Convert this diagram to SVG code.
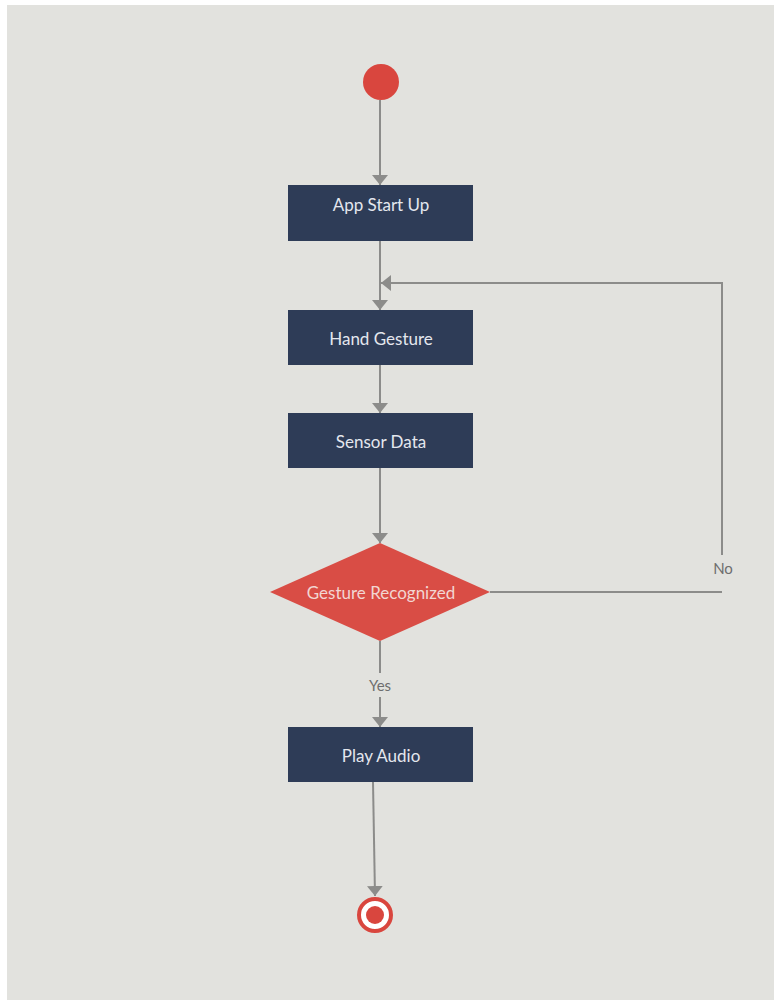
<svg xmlns="http://www.w3.org/2000/svg" width="774" height="1000" viewBox="0 0 774 1000">
<defs>
<style>
.box{fill:#2e3c57;}
.lbl{font-family:Lato,"Liberation Sans",sans-serif;font-size:17px;fill:#e4e7ee;text-anchor:middle;dominant-baseline:central;}
.edge{fill:none;stroke:#8c8c8a;stroke-width:2;}
.elbl{font-family:Lato,"Liberation Sans",sans-serif;font-size:15px;fill:#6e6e6e;text-anchor:middle;dominant-baseline:central;}
</style>
<marker id="arrB" viewBox="0 0 10 16" refX="10" refY="8" markerWidth="10" markerHeight="16" markerUnits="userSpaceOnUse" orient="auto">
<path d="M0,0 L10,8 L0,16 z" fill="#8c8c8a"/>
</marker>
</defs>
<rect x="0" y="0" width="774" height="1000" fill="#ffffff"/>
<rect x="7" y="5" width="767" height="995" fill="#e2e2de"/>

<g id="connectors">
<path class="edge" d="M380,100 L380,185" marker-end="url(#arrB)"/>
<path class="edge" d="M380,241 L380,310" marker-end="url(#arrB)"/>
<path class="edge" d="M380,365 L380,413" marker-end="url(#arrB)"/>
<path class="edge" d="M380,468 L380,543" marker-end="url(#arrB)"/>
<path class="edge" d="M380,641 L380,673"/>
<path class="edge" d="M380,697 L380,727" marker-end="url(#arrB)"/>
<path class="edge" d="M373,782 L375,896" marker-end="url(#arrB)"/>
<path class="edge" d="M490,592 L722,592"/>
<path class="edge" d="M722,555 L722,283 L381,283" marker-end="url(#arrB)"/>
<text class="elbl" x="380" y="685">Yes</text>
<text class="elbl" x="723" y="568">No</text>
</g>

<g id="start">
<circle cx="381" cy="82" r="18" fill="#d9463e"/>
</g>

<g id="app-start-up">
<rect class="box" x="288" y="185" width="185" height="56"/>
<text class="lbl" x="381" y="204">App Start Up</text>
</g>

<g id="hand-gesture">
<rect class="box" x="288" y="310" width="185" height="55"/>
<text class="lbl" x="381" y="338">Hand Gesture</text>
</g>

<g id="sensor-data">
<rect class="box" x="288" y="413" width="185" height="55"/>
<text class="lbl" x="381" y="441">Sensor Data</text>
</g>

<g id="gesture-recognized">
<polygon points="380,543 490,592 380,641 270,592" fill="#d94d45"/>
<text class="lbl" x="381" y="592" style="fill:#f2d6d2">Gesture Recognized</text>
</g>

<g id="play-audio">
<rect class="box" x="288" y="727" width="185" height="55"/>
<text class="lbl" x="381" y="755">Play Audio</text>
</g>

<g id="end">
<circle cx="375" cy="915" r="16" fill="#ffffff" stroke="#d9463e" stroke-width="4"/>
<circle cx="375" cy="915" r="9" fill="#d9463e"/>
</g>
</svg>
